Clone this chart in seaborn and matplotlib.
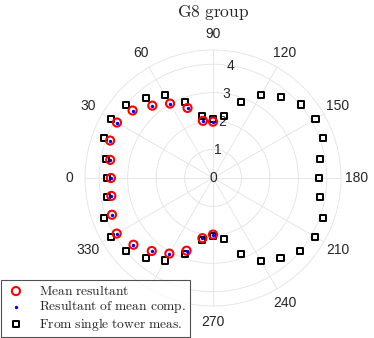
import numpy as np
import pandas as pd
import seaborn as sns
import matplotlib.pyplot as plt

# data (angles in degrees, r values)
ang_mean = [90, 80, 70, 60, 50, 40, 30, 20, 10, 0, 350, 340, 330, 320, 310, 300, 290, 280, 270]
r_mean = [1.98, 2.04, 2.62, 3.02, 3.32, 3.69, 3.90, 3.85, 3.67, 3.59, 3.63, 3.78, 3.91, 3.65, 3.35, 3.07, 2.72, 2.15, 1.99]
r_comp = [1.98, 2.04, 2.62, 3.02, 3.32, 3.69, 3.90, 3.85, 3.67, 3.60, 3.64, 3.78, 3.91, 3.65, 3.35, 3.07, 2.72, 2.15, 1.99]

ang_tower = list(range(0, 360, 10))
r_tower = [3.72, 3.81, 4.09, 4.14, 4.01, 3.68, 3.36, 2.85, 2.22, 2.07,
           2.22, 2.85, 3.36, 3.70, 4.02, 4.16, 4.10, 3.81, 3.72, 3.81,
           4.10, 4.15, 4.00, 3.69, 3.36, 2.84, 2.18, 2.04, 2.20, 2.84,
           3.35, 3.68, 3.99, 4.14, 4.09, 3.80]

theta_ticks = list(range(0, 360, 30))
theta_labels = ["0", "30", "60", "90", "120", "150", "180", "210", "240", "270", "", "330"]  # 300 sits under the legend
r_ticks = [0, 1, 2, 3, 4]

df_mean = pd.DataFrame({"theta": np.deg2rad(ang_mean), "r": r_mean, "r2": r_comp})
df_tower = pd.DataFrame({"theta": np.deg2rad(ang_tower), "r": r_tower})

sns.set_style("white")
plt.rcParams["mathtext.fontset"] = "cm"
plt.rcParams["font.family"] = ["Liberation Sans", "DejaVu Sans"]

fig = plt.figure(figsize=(3.74, 3.38), dpi=100)
ax = fig.add_axes([0.2273, 0.0947, 0.6845, 0.7574], projection="polar")

sns.scatterplot(data=df_mean, x="theta", y="r", ax=ax, marker="o", s=34,
                fc="none", ec="red", linewidth=1.5, label=r"$\mathrm{Mean\ resultant}$", zorder=3)
sns.scatterplot(data=df_mean, x="theta", y="r2", ax=ax, marker="o", s=6,
                fc="blue", ec="blue", linewidth=0, label=r"$\mathrm{Resultant\ of\ mean\ comp.}$", zorder=4)
sns.scatterplot(data=df_tower, x="theta", y="r", ax=ax, marker="s", s=19,
                fc="none", ec="black", linewidth=1.4, label=r"$\mathrm{From\ single\ tower\ meas.}$", zorder=2)

ax.set_theta_zero_location("W")
ax.set_theta_direction(-1)
ax.set_ylim(0, 4.5)
ax.set_yticks(r_ticks)
ax.set_yticklabels([])
ax.set_xticks(np.deg2rad(theta_ticks))
ax.set_xticklabels(theta_labels)
ax.set_xlabel("")
ax.set_ylabel("")
ax.tick_params(axis="x", labelsize=10, colors="#262626", pad=1)
ax.grid(True, color="#e3e3e3", linewidth=0.6)
ax.spines["polar"].set_color("#e3e3e3")
ax.spines["polar"].set_linewidth(0.6)

# radial labels centred on the 99 degree spoke, as in the original
for rv in r_ticks:
    ax.text(np.deg2rad(99), rv, str(rv), ha="center", va="center", fontsize=10, color="#262626", zorder=1)

fig.text(0.5695, 1 - 12 / 338, r"$\mathrm{G8\ group}$", ha="center", va="center", fontsize=12.5)

leg = ax.legend(loc="lower left", bbox_to_anchor=(0.003, 0.003), bbox_transform=fig.transFigure,
                borderaxespad=0, fontsize=9.7, frameon=True, fancybox=False,
                labelspacing=0.05, handletextpad=0.9, handlelength=1.6, borderpad=0.3)
leg.get_frame().set_edgecolor("#262626")
leg.get_frame().set_linewidth(0.8)

fig.savefig("out.png", dpi=100)
